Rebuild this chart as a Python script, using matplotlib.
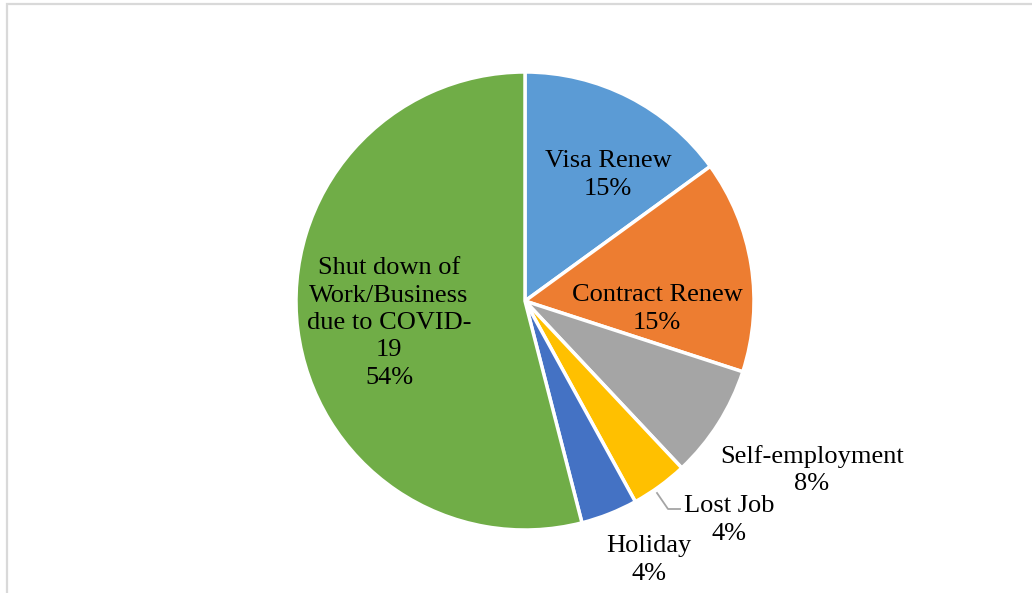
import matplotlib.pyplot as plt
from matplotlib.patches import Rectangle

categories = ['Visa Renew', 'Contract Renew', 'Self-employment', 'Lost Job',
              'Holiday', 'Shut down of\nWork/Business\ndue to COVID-\n19']
shares = [15, 15, 8, 4, 4, 54]
colors = ['#5B9BD5', '#ED7D31', '#A5A5A5', '#FFC000', '#4472C4', '#70AD47']

# label centres, offset from the pie centre in pixels
label_pos = [(83, 126), (132, -8), (287, -169), (204, -219), (124, -259), (-136, -22)]

plt.rcParams['font.family'] = ['Liberation Serif', 'DejaVu Serif']

W, H = 1032, 593
fig = plt.figure(figsize=(W / 100, H / 100), dpi=100)
ax = fig.add_axes([0, 0, 1, 1])

# frame around the chart area
fig.patches.append(Rectangle((6.5 / W, -0.1), 1.2, 1 - 4.5 / H + 0.1,
                             transform=fig.transFigure, fill=False,
                             edgecolor='#D9D9D9', linewidth=1.6))

cx, cy, r = 525, H - 301, 229
ax.pie(shares, colors=colors, startangle=90, counterclock=False,
       center=(cx, cy), radius=r, frame=True,
       wedgeprops=dict(edgecolor='white', linewidth=2.5))
ax.set_xlim(0, W)
ax.set_ylim(0, H)
ax.set_aspect('equal')
ax.axis('off')

for name, val, (dx, dy) in zip(categories, shares, label_pos):
    ax.text(cx + dx, cy + dy, f'{name}\n{val}%', ha='center', va='center',
            fontsize=19, color='black', linespacing=1.32)

# leader line for the small Lost Job slice
ax.plot([cx + 132, cx + 143, cx + 155], [cy - 192, cy - 208, cy - 208],
        color='#A5A5A5', linewidth=1.3)

fig.savefig('out.png', dpi=100)
